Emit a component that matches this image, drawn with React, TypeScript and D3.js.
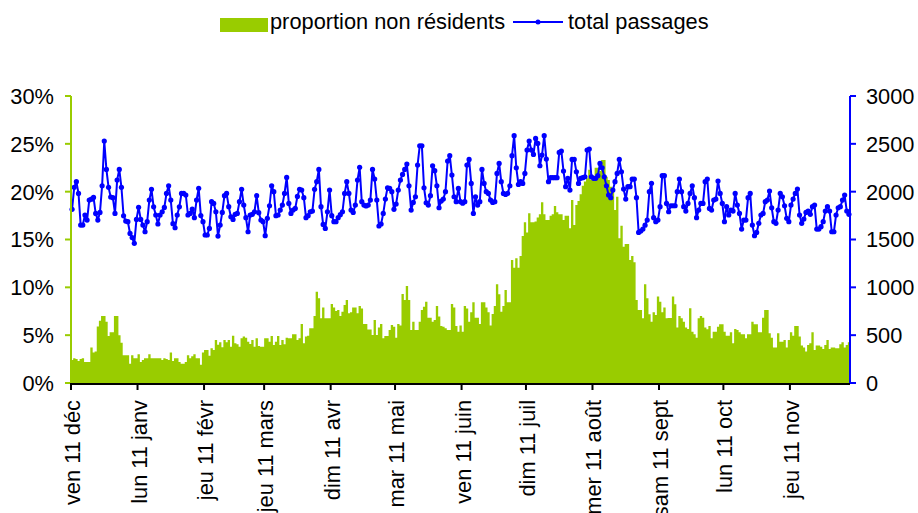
import React from 'react';
import * as d3 from 'd3';

// one value per day, starting ven 11 déc 2009
const startDate = '2009-12-11';

const tickDates = [
  '2009-12-11', '2010-01-11', '2010-02-11', '2010-03-11', '2010-04-11', '2010-05-11',
  '2010-06-11', '2010-07-11', '2010-08-11', '2010-09-11', '2010-10-11', '2010-11-11',
];
const tickLabels = [
  'ven 11 déc', 'lun 11 janv', 'jeu 11 févr', 'jeu 11 mars', 'dim 11 avr', 'mar 11 mai',
  'ven 11 juin', 'dim 11 juil', 'mer 11 août', 'sam 11 sept', 'lun 11 oct', 'jeu 11 nov',
];

const leftTicks = [0, 5, 10, 15, 20, 25, 30];
const rightTicks = [0, 500, 1000, 1500, 2000, 2500, 3000];

// proportion non résidents, in %
const proportionNonResidents = [
  2.4, 2.6, 2.5, 2.3, 2.5, 2.6, 2.2, 2.2, 2.2, 3.7,
  3.2, 3.3, 5.9, 6.5, 7.0, 7.0, 6.4, 4.9, 5.3, 5.3,
  7.0, 7.0, 5.0, 4.2, 2.9, 2.9, 2.9, 2.0, 2.9, 2.6,
  2.6, 3.0, 2.2, 2.4, 2.6, 2.6, 3.0, 2.6, 2.6, 2.6,
  2.6, 2.6, 2.4, 2.6, 2.5, 2.4, 3.2, 2.3, 2.6, 2.6,
  2.2, 2.0, 2.0, 2.2, 2.9, 2.6, 2.8, 3.0, 2.6, 2.6,
  1.9,
  3.2, 3.45, 3.45, 2.86, 3.63, 3.45, 4.5, 4.0, 4.25, 3.73,
  4.5, 4.25, 4.5, 3.8, 4.95, 4.15, 4.05, 3.8, 4.67, 4.85,
  4.74, 4.32, 4.08, 4.5, 3.8, 4.67, 3.87, 3.8, 3.8, 4.67,
  4.67, 4.32, 4.92, 3.98, 4.32, 4.92, 3.98, 4.5, 4.05,
  4.74, 4.67, 4.67, 5.09, 5.09, 4.5, 4.67, 6.17, 4.15, 4.85,
  4.95, 5.72, 5.72, 7.0, 9.55, 8.85, 6.76, 7.88, 6.76, 6.76,
  6.76,
  8.26, 7.88, 7.53, 7.63, 7.0, 7.46, 8.16, 8.68, 7.29, 7.4,
  7.88, 7.88, 7.29, 8.05, 7.8, 6.17, 6.17, 5.6, 5.6, 5.02,
  6.59, 5.02, 5.79, 6.17, 4.67, 4.92, 4.92, 5.54, 6.07, 5.89,
  4.74, 6.17, 6.0, 9.3, 8.68, 10.14, 8.68, 5.54, 6.41, 5.54,
  5.54, 6.41, 7.63, 7.98, 8.5, 6.83, 6.83, 6.41, 6.59, 8.05,
  6.94, 5.96, 5.89, 5.72, 5.54, 5.54, 8.26, 7.88, 5.96, 5.37,
  6.0, 5.37, 8.05, 7.8, 6.41, 7.39, 8.43, 6.83, 6.83, 6.17,
  8.43, 8.43, 7.88, 7.39, 6.0, 7.22, 8.05, 10.32, 9.27, 7.46,
  8.05, 9.72, 8.43, 8.43, 12.86, 12.06, 13.03, 12.06, 13.28, 15.37,
  16.8, 15.72, 17.74, 16.8, 16.8, 16.87, 17.29, 17.63, 18.89, 17.63,
  17.04, 17.04, 17.49, 17.63, 18.5, 17.84, 17.63, 17.63, 17.04, 17.49,
  17.49, 16.17, 19.13, 16.52, 18.61, 19.03, 19.72, 20.63, 21.05, 21.4,
  22.3,
  21.22, 21.22, 22.51, 22.51, 22.16, 23.3, 23.3, 21.57, 21.22, 20.52,
  20.0, 18.09, 19.48, 15.12, 16.45, 14.25, 14.53, 14.53, 12.86, 13.28,
  12.62, 8.68, 7.63, 7.63, 6.76, 10.32, 8.85, 7.18, 6.41, 7.39,
  7.11, 9.03, 8.5, 7.39, 7.88, 6.76, 6.8, 6.8, 9.03,
  8.23, 5.79, 7.01, 6.76, 6.41, 5.79, 5.65, 7.81, 5.37, 5.09,
  4.74, 6.76, 7.01, 6.83, 5.79, 5.61, 5.96, 4.67, 5.37, 5.37,
  5.89,
  6.13, 6.13, 5.37, 4.95, 4.95, 5.3, 4.15, 5.65, 5.54, 5.3,
  5.09, 5.09, 4.67, 5.09, 5.09, 6.41, 6.13, 6.13, 5.3, 5.3,
  6.83, 7.63, 7.63, 5.2, 4.74, 3.7, 3.7, 5.2, 4.32, 4.32,
  4.5, 3.7, 4.5, 5.3, 4.95, 5.96, 5.96, 4.85, 3.91, 3.7,
  3.28, 3.98, 4.15, 5.3, 3.45, 3.91, 3.91, 3.8, 3.56, 3.98,
  4.5, 3.56, 3.7, 3.7, 3.63, 3.63, 4.05, 4.25, 3.7, 3.98,
  4.25,
];

// total passages per day
const totalPassages = [
  1815, 2045, 2104, 1982, 1651, 1651, 1756, 1703, 1912, 1922,
  1940, 1773, 1703, 1783, 2062, 2529, 2233, 2045, 1944, 1937,
  1773, 2121, 2233, 2045, 1748, 1693, 1686, 1564, 1520, 1460,
  1710, 1836, 1710, 1651, 1581, 1686, 1912, 2024, 1842, 1756,
  1662, 1756, 1790, 1835, 1982, 2062, 1912, 1665, 1623, 1756,
  1842, 1982, 1982, 1965, 1756, 1773, 1818, 1728, 1912, 2035,
  1750,
  1686, 1547, 1547, 1616, 1895, 1877, 1790, 1536, 1651, 1783,
  1958, 1982, 1843, 1738, 1710, 1763, 1773, 1895, 2024, 1860,
  1728, 1581, 1756, 1763, 1790, 1958, 1780, 1703, 1686, 1540,
  1721, 1853, 2062, 2000, 1749, 1756, 1808, 1860, 1982,
  2149, 1877, 1773, 1808, 1825, 1950, 2024, 2017, 1937, 1728,
  1749, 1790, 1797, 2024, 2104, 2233, 1843, 1658, 1616, 1790,
  2017,
  1749, 1686, 1686, 1728, 1760, 1790, 1982, 2104, 1982, 1808,
  1783, 1860, 2121, 2254, 1895, 1860, 1850, 1860, 1912, 2233,
  2132, 1912, 1641, 1662, 1773, 1923, 2041, 2034, 2000, 1815,
  1871, 2017, 2121, 2180, 2233, 2288, 2062, 1808, 1888, 1947,
  2278, 2480, 2480, 2041, 1884, 1860, 1958, 2271, 2219, 2062,
  1832, 1902, 1923, 2000, 2320, 2376, 2174, 1947, 1895, 2034,
  1895, 1880, 1895, 2278, 2337, 2086, 1773, 1947, 1860, 1895,
  2233, 2086, 2000, 1982, 1912, 1888, 1895, 2191, 2295, 2104,
  1982, 1971, 1982, 2062, 2376, 2585, 2250, 2076, 2104, 2086,
  2191, 2435, 2529, 2435, 2389, 2557, 2504, 2271, 2383, 2585,
  2341, 2104, 2146, 2146, 2146, 2146, 2410, 2424, 2215, 2052,
  2139, 2017, 2337, 2337, 2208, 2086, 2139, 2146, 2156, 2435,
  2445,
  2156, 2139, 2139, 2167, 2295, 2250, 2156, 2062, 1965, 1937,
  2017, 2104, 2191, 2337, 2208, 2027, 1923, 2052, 2052, 2132,
  2132, 1937, 1574, 1588, 1609, 1650, 1703, 2000, 2087, 1728,
  1686, 1703, 1843, 2167, 2167, 1877, 1790, 1853, 1853, 1853,
  2000, 2132, 2000, 1843, 1797, 1877, 1982, 2062, 1937, 1728,
  1808, 1877, 1877, 2104, 2132, 1825, 1808, 1912, 1923,
  2111, 1982, 1877, 1686, 1843, 1756, 1808, 1797, 1982, 1860,
  1773, 1609, 1703, 1703, 1937, 1982, 1651, 1540, 1574, 1669,
  1756, 1773, 1895, 1912, 2006, 1832, 1686, 1669, 1808, 1982,
  1947, 1853, 1721, 1686, 1860, 1923, 1982, 2027, 1756, 1669,
  1714, 1783, 1797, 1763, 1843, 1860, 1609, 1609, 1634, 1686,
  1797, 1843, 1797, 1581, 1581, 1756, 1832, 1843, 1912, 1965,
  1797, 1763,
];

const width = 918;
const height = 513;
const plot = { left: 71, right: 850, top: 96, bottom: 383 };

const green = '#99CC00';
const blue = '#0000FF';
const font = 'Arial, "Liberation Sans", sans-serif';
const fontSize = 21.8;

const App = () => {
  const parse = d3.timeParse('%Y-%m-%d');
  const start = parse(startDate) as Date;
  const n = proportionNonResidents.length;

  const x = d3.scaleBand<number>()
    .domain(d3.range(n))
    .range([plot.left, plot.right])
    .padding(0);
  const bw = x.bandwidth();

  const yLeft = d3.scaleLinear().domain([0, 30]).range([plot.bottom, plot.top]);
  const yRight = d3.scaleLinear().domain([0, 3000]).range([plot.bottom, plot.top]);

  // all bars in one path so neighbouring bars don't leave seams
  const bars = d3.path();
  proportionNonResidents.forEach((v, i) => {
    bars.rect(x(i) as number, yLeft(v), bw + 0.2, plot.bottom - yLeft(v));
  });

  const linePath = d3.line<number>()
    .x((_, i) => (x(i) as number) + bw / 2)
    .y(d => yRight(d))(totalPassages.slice(0, n));

  const ticks = tickDates.map((d, i) => ({
    idx: d3.timeDay.count(start, parse(d) as Date),
    label: tickLabels[i],
  }));

  return (
    <svg width={width} height={height} style={{ position: 'absolute', left: 0, top: 0 }}>
      <rect width={width} height={height} fill="#fff" />

      {/* legend */}
      <g fontFamily={font} fontSize={fontSize} fill="#000">
        <rect x={220} y={18} width={48} height={14} fill={green} />
        <text x={270} y={29}>proportion non résidents</text>
        <line x1={513} x2={563} y1={22} y2={22} stroke={blue} strokeWidth={2} />
        <circle cx={538} cy={22} r={2.5} fill={blue} />
        <text x={568} y={29}>total passages</text>
      </g>

      {/* bars */}
      <path d={bars.toString()} fill={green} />

      {/* line + markers */}
      <path d={linePath || ''} fill="none" stroke={blue} strokeWidth={2} strokeLinejoin="round" />
      {totalPassages.slice(0, n).map((v, i) => (
        <circle key={i} cx={(x(i) as number) + bw / 2} cy={yRight(v)} r={2.6} fill={blue} />
      ))}

      {/* left axis */}
      <line x1={plot.left} x2={plot.left} y1={plot.top} y2={plot.bottom} stroke={green} strokeWidth={2} />
      {leftTicks.map(t => (
        <g key={t} transform={`translate(0, ${yLeft(t)})`}>
          <line x1={plot.left - 6} x2={plot.left} stroke={green} strokeWidth={2} />
          <text
            x={54}
            dy="0.36em"
            textAnchor="end"
            fontFamily={font}
            fontSize={fontSize}
            fill="#000"
          >
            {t}%
          </text>
        </g>
      ))}

      {/* right axis */}
      <line x1={plot.right} x2={plot.right} y1={plot.top} y2={plot.bottom} stroke={blue} strokeWidth={2} />
      {rightTicks.map(t => (
        <g key={t} transform={`translate(0, ${yRight(t)})`}>
          <line x1={plot.right} x2={plot.right + 6} stroke={blue} strokeWidth={2} />
          <text x={866} dy="0.36em" fontFamily={font} fontSize={fontSize} fill="#000">
            {t}
          </text>
        </g>
      ))}

      {/* bottom axis */}
      <line x1={plot.left} x2={plot.right} y1={plot.bottom + 1} y2={plot.bottom + 1} stroke="#000" strokeWidth={2} />
      {ticks.map(t => {
        const tx = x(t.idx) as number;
        return (
          <g key={t.label} transform={`translate(${tx}, 0)`}>
            <line y1={plot.bottom} y2={plot.bottom + 7} stroke="#000" strokeWidth={2} />
            <text
              transform={`translate(0, 400) rotate(-90)`}
              dy={9}
              textAnchor="end"
              fontFamily={font}
              fontSize={fontSize}
              fill="#000"
            >
              {t.label}
            </text>
          </g>
        );
      })}
    </svg>
  );
};

export default App;
